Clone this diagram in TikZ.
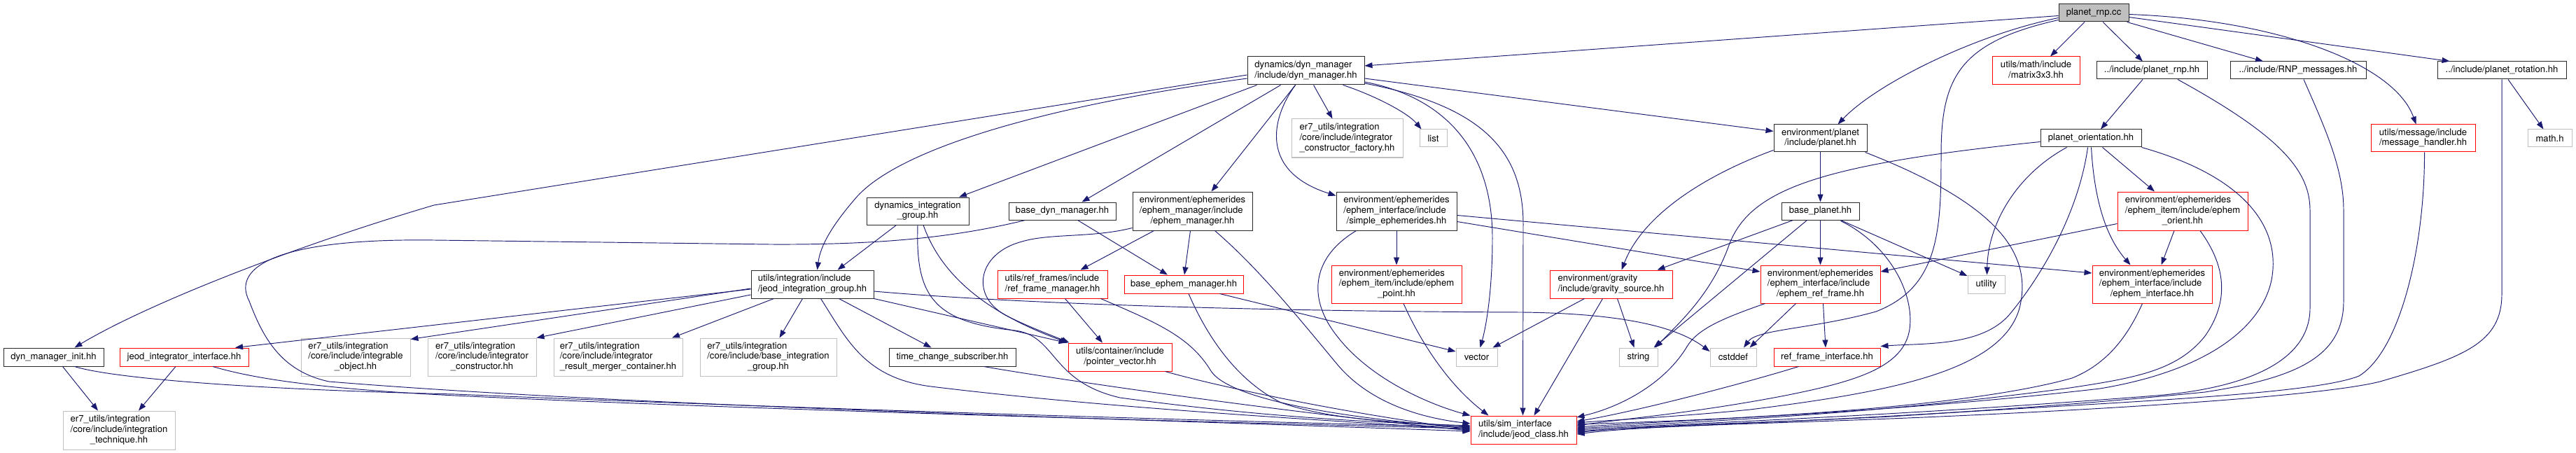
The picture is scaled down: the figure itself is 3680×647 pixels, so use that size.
\documentclass[tikz,border=0pt]{standalone}
\usepackage{fontspec}
\setmainfont{TeX Gyre Heros}
\usetikzlibrary{arrows.meta,calc}
\definecolor{edgec}{RGB}{25,25,112}
\definecolor{grayb}{RGB}{191,191,191}
\definecolor{redb}{RGB}{255,0,0}
\definecolor{blkb}{RGB}{40,40,40}
\newcommand\two[2]{\begin{tabular}{@{}l@{}}#1\\\multicolumn{1}{@{}c@{}}{#2}\end{tabular}}
\newcommand\three[3]{\begin{tabular}{@{}l@{}}#1\\#2\\\multicolumn{1}{@{}c@{}}{#3}\end{tabular}}
\newcommand\nd[7]{\node[#2,minimum width={(#5)-(#3)},minimum height={(#6)-(#4)}] (#1) at ({((#3)+(#5))/2},{((#4)+(#6))/2}) {#7};}
\tikzset{
  box/.style={rectangle,inner sep=0pt,line width=1pt,font=\fontsize{13.1}{14.8}\selectfont,text=black},
  bk/.style={box,draw=blkb},
  rd/.style={box,draw=redb},
  gy/.style={box,draw=grayb},
  rootbox/.style={box,draw=blkb,fill=grayb},
  e/.style={draw=edgec,line width=0.95pt,-{Triangle[length=11pt,width=8pt]}}
}
\begin{document}
\begin{tikzpicture}[x=1pt,y=-1pt]
\fill[white] (0,0) rectangle (3680,647);
\useasboundingbox (0,0) rectangle (3680,647);
% nodes
\nd{rnp}{rootbox}{2941}{6}{3041}{31}{planet\_rnp.cc}
\nd{dm}{bk}{1782}{81}{1949}{121}{\two{dynamics/dyn\_manager}{/include/dyn\_manager.hh}}
\nd{m33}{rd}{2846}{81}{2971}{121}{\two{utils/math/include}{/matrix3x3.hh}}
\nd{prh}{bk}{2995}{88}{3153}{113}{../include/planet\_rnp.hh}
\nd{rnpm}{bk}{3186}{88}{3380}{113}{../include/RNP\_messages.hh}
\nd{prot}{bk}{3482}{88}{3666}{113}{../include/planet\_rotation.hh}
\nd{icf}{gy}{1845}{170}{2004}{225}{\three{er7\_utils/integration}{/core/include/integrator}{\_constructor\_factory.hh}}
\nd{list}{gy}{2028}{185}{2067}{210}{list}
\nd{planet}{bk}{2534}{178}{2667}{217}{\two{environment/planet}{/include/planet.hh}}
\nd{po}{bk}{2915}{185}{3059}{210}{planet\_orientation.hh}
\nd{mh}{rd}{3387}{178}{3536}{217}{\two{utils/message/include}{/message\_handler.hh}}
\nd{math}{gy}{3611}{185}{3674}{210}{math.h}
\nd{dig}{bk}{1238}{282}{1384}{321}{\two{dynamics\_integration}{\_group.hh}}
\nd{bdm}{bk}{1441}{289}{1594}{314}{base\_dyn\_manager.hh}
\nd{em}{bk}{1618}{274}{1789}{329}{\three{environment/ephemerides}{/ephem\_manager/include}{/ephem\_manager.hh}}
\nd{se}{bk}{1909}{274}{2081}{329}{\three{environment/ephemerides}{/ephem\_interface/include}{/simple\_ephemerides.hh}}
\nd{bp}{bk}{2545}{289}{2656}{314}{base\_planet.hh}
\nd{eo}{rd}{3025}{274}{3211}{329}{\three{environment/ephemerides}{/ephem\_item/include/ephem}{\_orient.hh}}
\nd{jig}{bk}{1073}{386}{1248}{426}{\two{utils/integration/include}{/jeod\_integration\_group.hh}}
\nd{rfm}{rd}{1425}{386}{1582}{426}{\two{utils/ref\_frames/include}{/ref\_frame\_manager.hh}}
\nd{bem}{rd}{1606}{393}{1776}{419}{base\_ephem\_manager.hh}
\nd{ep}{rd}{1902}{379}{2088}{433}{\three{environment/ephemerides}{/ephem\_item/include/ephem}{\_point.hh}}
\nd{gs}{rd}{2214}{386}{2389}{426}{\two{environment/gravity}{/include/gravity\_source.hh}}
\nd{erf}{rd}{2515}{379}{2686}{433}{\three{environment/ephemerides}{/ephem\_interface/include}{/ephem\_ref\_frame.hh}}
\nd{util}{gy}{2811}{393}{2864}{419}{utility}
\nd{ei}{rd}{2989}{379}{3160}{433}{\three{environment/ephemerides}{/ephem\_interface/include}{/ephem\_interface.hh}}
\nd{dmi}{bk}{5}{497}{148}{523}{dyn\_manager\_init.hh}
\nd{jii}{rd}{171}{497}{355}{523}{jeod\_integrator\_interface.hh}
\nd{io}{gy}{430}{483}{586}{537}{\three{er7\_utils/integration}{/core/include/integrable}{\_object.hh}}
\nd{ic}{gy}{611}{483}{766}{537}{\three{er7\_utils/integration}{/core/include/integrator}{\_constructor.hh}}
\nd{irm}{gy}{791}{483}{975}{537}{\three{er7\_utils/integration}{/core/include/integrator}{\_result\_merger\_container.hh}}
\nd{big}{gy}{1000}{483}{1195}{537}{\three{er7\_utils/integration}{/core/include/base\_integration}{\_group.hh}}
\nd{tcs}{bk}{1270}{497}{1451}{523}{time\_change\_subscriber.hh}
\nd{pv}{rd}{1526}{490}{1674}{530}{\two{utils/container/include}{/pointer\_vector.hh}}
\nd{vec}{gy}{2080}{497}{2139}{523}{vector}
\nd{str}{gy}{2313}{497}{2368}{523}{string}
\nd{cst}{gy}{2443}{497}{2509}{523}{cstddef}
\nd{rfi}{rd}{2534}{497}{2686}{523}{ref\_frame\_interface.hh}
\nd{it}{gy}{90}{587}{250}{642}{\three{er7\_utils/integration}{/core/include/integration}{\_technique.hh}}
\nd{jc}{rd}{2101}{594}{2252}{634}{\two{utils/sim\_interface}{/include/jeod\_class.hh}}
% edges from root
\draw[e] ($(rnp.west)+(0,4)$) -- ($(dm.east)+(0,-7)$);
\draw[e] (rnp) -- (m33);
\draw[e] (rnp) -- (prh);
\draw[e] ($(rnp.south east)+(-3,0)$) -- ($(rnpm.north)+(-50,0)$);
\draw[e] ($(rnp.east)+(0,6)$) -- ($(prot.north west)+(18,0)$);
\draw[e] ($(rnp.east)+(0,2)$) .. controls (3250,28) and (3420,90) .. ($(mh.north)+(-10,0)$);
\draw[e] ($(rnp.west)+(0,7)$) .. controls (2820,50) and (2680,120) .. ($(planet.north)+(25,0)$);
\draw[e] ($(rnp.west)+(0,10)$) .. controls (2800,60) and (2773,110) .. (2773,220) .. controls (2773,330) and (2770,410) .. (2680,445) .. controls (2590,470) and (2510,470) .. ($(cst.north)+(15,0)$);
% dyn_manager
\draw[e] ($(dm.west)+(0,6)$) -- (620,293) .. controls (400,358) and (200,440) .. ($(dmi.north)+(30,0)$);
\draw[e] ($(dm.west)+(0,11)$) .. controls (1500,150) and (1290,210) .. (1225,280) .. controls (1190,320) and (1172,350) .. ($(jig.north)+(7,0)$);
\draw[e] ($(dm.south west)+(14,0)$) -- ($(dig.north)+(59,0)$);
\draw[e] ($(dm.south west)+(48,0)$) -- ($(bdm.north)+(28,0)$);
\draw[e] ($(dm.south west)+(69,0)$) -- ($(em.north)+(27,0)$);
\draw[e] ($(dm.south west)+(95,0)$) -- ($(icf.north)+(-21,0)$);
\draw[e] ($(dm.south west)+(137,0)$) .. controls (1960,135) and (2010,160) .. ($(list.north west)+(3,0)$);
\draw[e] ($(dm.south west)+(69,0)$) .. controls (1815,170) and (1800,245) .. ($(se.west)+(0,-22)$);
\draw[e] ($(dm.east)+(0,16)$) .. controls (2070,140) and (2132,220) .. (2132,340) .. controls (2132,420) and (2122,470) .. ($(vec.north)+(5,0)$);
\draw[e] ($(dm.east)+(0,18)$) .. controls (2110,150) and (2176,210) .. (2176,320) -- ($(jc.north)+(-1,0)$);
\draw[e] ($(dm.east)+(0,11)$) -- ($(planet.west)+(0,-10)$);
% dyn_manager_init, jeod_integrator_interface
\draw[e] ($(dmi.south)+(13,0)$) -- ($(it.north)+(-30,0)$);
\draw[e] ($(dmi.south)+(30,0)$) .. controls (160,540) and (350,556) .. (650,563) .. controls (1000,578) and (1600,598) .. ($(jc.west)+(0,-4)$);
\draw[e] ($(jii.south)+(-12,0)$) -- ($(it.north)+(28,0)$);
\draw[e] ($(jii.south)+(41,0)$) .. controls (360,540) and (450,555) .. (650,565) .. controls (1000,582) and (1600,600) .. ($(jc.west)+(0,-2)$);
% jeod_integration_group
\draw[e] ($(jig.west)+(0,7)$) -- ($(jii.north)+(73,0)$);
\draw[e] ($(jig.west)+(0,6)$) -- ($(io.north east)+(0,2)$);
\draw[e] ($(jig.west)+(0,15)$) -- (ic.north east);
\draw[e] ($(jig.south west)+(33,0)$) -- ($(irm.north)+(77,0)$);
\draw[e] ($(jig.south west)+(74,0)$) -- ($(big.north)+(16,0)$);
\draw[e] ($(jig.south west)+(100,0)$) .. controls (1210,485) and (1235,540) .. (1330,552) .. controls (1600,585) and (1900,600) .. (jc.west);
\draw[e] ($(jig.south west)+(126,0)$) -- ($(tcs.north)+(-30,0)$);
\draw[e] (jig.south east) -- ($(pv.north west)+(-2,0)$);
\draw[e] ($(jig.east)+(0,10)$) .. controls (1500,438) and (1900,445) .. (2175,446) .. controls (2330,448) and (2400,470) .. ($(cst.west)+(0,-8)$);
% dynamics_integration_group
\draw[e] ($(dig.south west)+(43,0)$) -- ($(jig.north east)+(-52,0)$);
\draw[e] ($(dig.south)+(8,0)$) .. controls (1340,380) and (1390,440) .. (pv.north west);
\draw[e] (dig.south) .. controls (1308,420) and (1330,460) .. (1450,472) .. controls (1510,480) and (1500,545) .. (1600,568) .. controls (1800,595) and (1950,603) .. ($(jc.west)+(0,-6)$);
% base_dyn_manager
\draw[e] ($(bdm.south)+(22,0)$) -- ($(bem.north)+(-23,0)$);
\draw[e] ($(bdm.south west)+(24,0)$) .. controls (1380,335) and (1280,350) .. (1100,349) -- (620,343) .. controls (400,340) and (330,380) .. (356,430) .. controls (375,480) and (400,530) .. (470,545) .. controls (900,580) and (1600,598) .. ($(jc.west)+(0,2)$);
% ephem_manager
\draw[e] ($(em.south west)+(31,0)$) -- ($(rfm.north)+(40,0)$);
\draw[e] ($(em.south)+(-3,0)$) -- ($(bem.north)+(1,0)$);
\draw[e] ($(em.south east)+(-54,0)$) .. controls (1800,385) and (1860,460) .. (1910,520) .. controls (1960,580) and (2040,598) .. ($(jc.west)+(0,-9)$);
\draw[e] ($(em.west)+(0,24)$) .. controls (1560,340) and (1500,333) .. (1460,345) .. controls (1395,362) and (1385,425) .. (1440,452) .. controls (1470,467) and (1500,478) .. ($(pv.north west)+(2,0)$);
% ref_frame_manager, base_ephem_manager
\draw[e] ($(rfm.south)+(18,0)$) -- ($(pv.north)+(-25,0)$);
\draw[e] ($(rfm.south east)+(-10,0)$) .. controls (1650,460) and (1700,480) .. (1730,530) .. controls (1760,575) and (1950,600) .. ($(jc.west)+(0,-3)$);
\draw[e] ($(bem.south)+(7,0)$) .. controls (1720,470) and (1760,540) .. (1830,575) .. controls (1900,600) and (2000,603) .. ($(jc.west)+(0,-5)$);
\draw[e] ($(bem.south east)+(-34,0)$) -- ($(vec.west)+(0,-8)$);
% simple_ephemerides, ephem_point
\draw[e] (se) -- (ep);
\draw[e] ($(se.south west)+(29,0)$) .. controls (1870,370) and (1870,430) .. (1910,480) .. controls (1960,545) and (2050,580) .. (jc.north west);
\draw[e] ($(se.east)+(0,6)$) -- ($(ei.west)+(0,-16)$);
\draw[e] ($(se.east)+(0,15)$) -- ($(erf.west)+(0,-18)$);
\draw[e] ($(ep.south)+(10,0)$) .. controls (2030,490) and (2070,550) .. ($(jc.north)+(-50,0)$);
% gravity_source
\draw[e] ($(gs.south west)+(50,0)$) -- ($(vec.north east)+(-7,0)$);
\draw[e] ($(gs.south)+(9,0)$) -- ($(str.north)+(-6,0)$);
\draw[e] ($(gs.south)+(-12,0)$) -- ($(jc.north)+(15,0)$);
% planet
\draw[e] (planet) -- (bp);
\draw[e] ($(planet.south west)+(0,-3)$) .. controls (2450,245) and (2350,300) .. ($(gs.north)+(15,0)$);
\draw[e] ($(planet.south east)+(-3,0)$) .. controls (2850,290) and (2905,360) .. (2885,440) .. controls (2860,530) and (2700,560) .. (2500,585) .. controls (2400,595) and (2300,600) .. ($(jc.east)+(0,-10)$);
% base_planet
\draw[e] (bp) -- (erf);
\draw[e] ($(bp.south west)+(17,0)$) -- ($(gs.north east)+(-22,0)$);
\draw[e] ($(bp.south west)+(37,0)$) -- ($(str.north east)+(-6,0)$);
\draw[e] ($(bp.south east)+(-27,0)$) -- ($(util.west)+(0,-12)$);
\draw[e] ($(bp.south east)+(-27,1)$) .. controls (2700,350) and (2735,420) .. (2728,470) .. controls (2720,525) and (2650,545) .. (2550,565) .. controls (2420,590) and (2320,598) .. ($(jc.east)+(0,-6)$);
% ephem_ref_frame, ref_frame_interface
\draw[e] ($(erf.south west)+(51,0)$) -- ($(cst.north east)+(-10,0)$);
\draw[e] ($(erf.south)+(4,0)$) -- ($(rfi.north)+(-2,0)$);
\draw[e] ($(erf.south west)+(7,0)$) .. controls (2460,455) and (2425,470) .. (2410,495) .. controls (2380,545) and (2320,580) .. ($(jc.east)+(0,-18)$);
\draw[e] ($(rfi.south west)+(36,0)$) .. controls (2500,545) and (2350,585) .. ($(jc.east)+(0,-12)$);
% planet_orientation
\draw[e] ($(po.south west)+(38,0)$) .. controls (2880,250) and (2840,320) .. ($(util.north)+(1,0)$);
\draw[e] ($(po.south west)+(68,0)$) .. controls (2970,300) and (2920,390) .. (2870,450) .. controls (2830,495) and (2750,490) .. ($(rfi.north east)+(0,-2)$);
\draw[e] ($(po.south west)+(73,0)$) .. controls (2992,290) and (3010,340) .. ($(ei.north)+(-31,0)$);
\draw[e] ($(po.south west)+(89,0)$) -- ($(eo.north)+(-40,0)$);
\draw[e] (po.south east) .. controls (3200,250) and (3260,320) .. (3245,400) .. controls (3230,470) and (3150,530) .. (3000,555) .. controls (2700,590) and (2400,600) .. ($(jc.east)+(0,-4)$);
\draw[e] ($(po.west)+(0,5)$) .. controls (2600,235) and (2500,270) .. (2470,350) .. controls (2445,420) and (2400,460) .. ($(str.north east)+(-4,0)$);
% ephem_orient, ephem_interface
\draw[e] ($(eo.south)+(-12,0)$) -- ($(ei.north)+(13,0)$);
\draw[e] ($(eo.west)+(0,18)$) -- ($(erf.east)+(0,-18)$);
\draw[e] ($(eo.south)+(25,0)$) .. controls (3180,380) and (3185,430) .. (3150,480) .. controls (3110,530) and (3050,540) .. (2950,555) .. controls (2650,595) and (2400,603) .. ($(jc.east)+(0,-2)$);
\draw[e] ($(ei.south west)+(72,0)$) .. controls (3040,480) and (3010,520) .. (2960,540) .. controls (2800,585) and (2450,600) .. ($(jc.east)+(0,-8)$);
% top-right headers
\draw[e] ($(prh.south)+(-13,0)$) -- ($(po.north)+(14,0)$);
\draw[e] ($(prh.south)+(37,0)$) .. controls (3250,190) and (3300,240) .. (3300,300) -- (3300,440) .. controls (3300,520) and (3200,555) .. (3080,565) .. controls (2700,595) and (2400,605) .. (jc.east);
\draw[e] ($(rnpm.south)+(8,0)$) .. controls (3320,180) and (3348,240) .. (3348,300) -- (3348,430) .. controls (3348,510) and (3280,540) .. (3150,560) .. controls (2750,600) and (2400,606) .. ($(jc.east)+(0,2)$);
\draw[e] ($(mh.south)+(2,0)$) .. controls (3464,350) and (3430,500) .. (3370,537) .. controls (3300,565) and (3000,575) .. (2700,595) .. controls (2500,605) and (2350,607) .. ($(jc.east)+(0,4)$);
\draw[e] (prot.south) -- (3574,420) .. controls (3574,490) and (3520,510) .. (3400,545) .. controls (3300,570) and (2900,590) .. (2700,598) .. controls (2500,606) and (2350,608) .. ($(jc.east)+(0,6)$);
\draw[e] ($(prot.south)+(9,0)$) -- ($(math.north)+(-9,0)$);
% pointer_vector, time_change_subscriber
\draw[e] ($(pv.south east)+(-10,0)$) .. controls (1750,555) and (1950,595) .. ($(jc.west)+(0,-1)$);
\draw[e] ($(tcs.south east)+(-46,0)$) .. controls (1500,540) and (1800,585) .. ($(jc.west)+(0,1)$);
\end{tikzpicture}
\end{document}
